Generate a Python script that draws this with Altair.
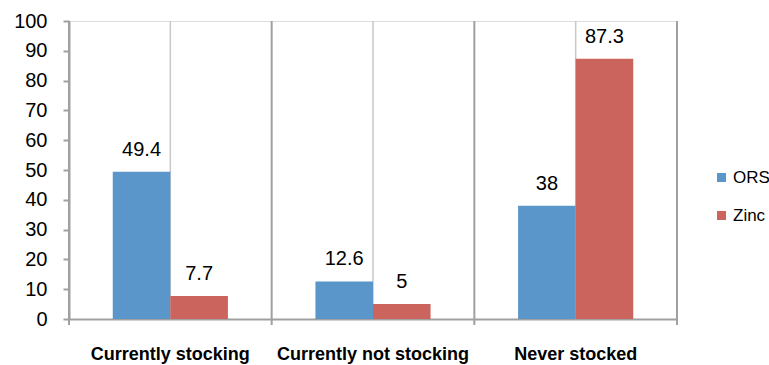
import altair as alt
import pandas as pd

# Stocking status of ORS and zinc among outlets (percent)
categories = ["Currently stocking", "Currently not stocking", "Never stocked"]
series = ["ORS", "Zinc"]
ors_values = [49.4, 12.6, 38]
zinc_values = [7.7, 5, 87.3]
y_ticks = list(range(0, 101, 10))
colors = ["#5B96CB", "#CB645D"]

FONT = "Liberation Sans, Arial, sans-serif"
AXIS_GRAY = "#a0a0a0"

rows = []
for cat, o, z in zip(categories, ors_values, zinc_values):
    for name, v in zip(series, [o, z]):
        rows.append({"cat": cat, "series": name, "value": v, "label": f"{v:g}"})
df = pd.DataFrame(rows)

guides = pd.DataFrame({"cat": categories, "lo": [0] * 3, "hi": [100] * 3})
last = guides.tail(1)

x_scale = alt.Scale(paddingInner=0, paddingOuter=0)
x_axis = alt.Axis(
    title=None,
    labelAngle=0,
    labelAlign="center",
    labelFont=FONT,
    labelFontSize=18,
    labelFontWeight="bold",
    labelColor="#000",
    labelPadding=26,
    labelLimit=300,
    ticks=False,
    grid=False,
    domainColor=AXIS_GRAY,
    domainWidth=2,
)
y_scale = alt.Scale(domain=[0, 100], nice=False)
y_axis = alt.Axis(
    title=None,
    values=y_ticks,
    labelOverlap=False,
    grid=False,
    labelFont=FONT,
    labelFontSize=20,
    labelColor="#000",
    labelPadding=16,
    tickSize=6,
    tickColor=AXIS_GRAY,
    tickWidth=2,
    domainColor=AXIS_GRAY,
    domainWidth=2,
)


def xcat(**kw):
    return alt.X("cat:N", sort=categories, scale=x_scale, axis=x_axis, **kw)


def yq(field):
    return alt.Y(field, scale=y_scale, axis=y_axis)


# light line through the middle of each category
center_rules = alt.Chart(guides).mark_rule(color="#c8c8c8", strokeWidth=1.5).encode(
    x=xcat(), y=yq("lo:Q"), y2="hi:Q"
)

# category separators, running a few pixels below the baseline as ticks
sep_rules = alt.Chart(guides).mark_rule(
    color=AXIS_GRAY, strokeWidth=2, y2Offset=6
).encode(x=xcat(bandPosition=0), y=yq("hi:Q"), y2="lo:Q")
end_rule = alt.Chart(last).mark_rule(
    color=AXIS_GRAY, strokeWidth=2, y2Offset=6
).encode(x=xcat(bandPosition=1), y=yq("hi:Q"), y2="lo:Q")

xoff = alt.XOffset(
    "series:N", sort=series, scale=alt.Scale(paddingInner=0, paddingOuter=0.76)
)

bars = alt.Chart(df).mark_bar().encode(
    x=xcat(),
    xOffset=xoff,
    y=yq("value:Q"),
    color=alt.Color(
        "series:N",
        sort=series,
        scale=alt.Scale(domain=series, range=colors),
        legend=alt.Legend(
            title=None,
            orient="none",
            legendX=644,
            legendY=148,
            symbolType="square",
            symbolSize=81,
            symbolStrokeWidth=0,
            labelFont=FONT,
            labelFontSize=17,
            labelColor="#000",
            labelOffset=3,
            rowPadding=20,
        ),
    ),
)

labels = alt.Chart(df).mark_text(
    font=FONT, fontSize=20, color="#000", baseline="bottom", dy=-12
).encode(
    x=xcat(),
    xOffset=xoff,
    y=yq("value:Q"),
    text="label:N",
)

chart = (
    alt.layer(center_rules, sep_rules, end_rule, bars, labels)
    .properties(
        width=608,
        height=298,
        autosize=alt.AutoSizeParams(type="none"),
        padding={"left": 69, "top": 21, "right": 92, "bottom": 46},
    )
    .configure_view(stroke=None)
    .configure(background="white")
)

chart.save("out.html", embed_options={"renderer": "svg", "actions": False})
